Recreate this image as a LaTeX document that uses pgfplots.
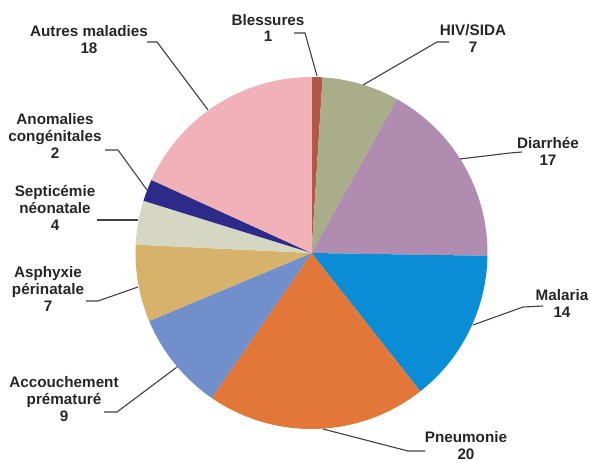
\documentclass[border=0pt]{standalone}
\usepackage{pgfplots}
\pgfplotsset{compat=1.18}
\usepackage{fontspec}
\setmainfont{Liberation Sans}
\definecolor{cBless}{HTML}{B05A45}
\definecolor{cHIV}{HTML}{A9AD89}
\definecolor{cDiar}{HTML}{B08DB0}
\definecolor{cMal}{HTML}{0A8DD4}
\definecolor{cPneu}{HTML}{E2773A}
\definecolor{cAcc}{HTML}{7190CB}
\definecolor{cAsph}{HTML}{D6B26A}
\definecolor{cSept}{HTML}{D6D7C2}
\definecolor{cAnom}{HTML}{2E2A8A}
\definecolor{cAutr}{HTML}{F0B2B8}
\definecolor{lead}{HTML}{404040}
% values in drawing order (clockwise from top)
\def\pievalues{1/cBless,7/cHIV,17/cDiar,14/cMal,20/cPneu,9/cAcc,7/cAsph,4/cSept,2/cAnom,18/cAutr}
\def\pietotal{99}
\newcount\pidx
\gdef\cum{0}
\pidx=0
\foreach \v/\c in \pievalues {%
  \pgfmathsetmacro\sa{90-\cum/\pietotal*360}%
  \pgfmathsetmacro\newcum{\cum+\v}%
  \pgfmathsetmacro\ea{90-\newcum/\pietotal*360}%
  \expandafter\xdef\csname pstart\the\pidx\endcsname{\sa}%
  \expandafter\xdef\csname pend\the\pidx\endcsname{\ea}%
  \expandafter\xdef\csname pcol\the\pidx\endcsname{\c}%
  \xdef\cum{\newcum}%
  \global\advance\pidx by 1
}
\begin{document}
\begin{tikzpicture}
\begin{axis}[
  x=1bp, y=1bp, xmin=0, xmax=590, ymin=0, ymax=463,
  hide axis, clip=false, anchor=origin, at={(0,0)},
  scale only axis,
]
\pgfplotsinvokeforeach{0,...,9}{
  \fill[color=\csname pcol#1\endcsname] (axis cs:311.5,210) -- ++(\csname pstart#1\endcsname:176bp)
     arc[start angle=\csname pstart#1\endcsname, end angle=\csname pend#1\endcsname, radius=176bp] -- cycle;
}
% leader lines (pixel coords, y flipped)
\begin{scope}[draw=lead, line width=1.1bp]
\draw (axis cs:294,430) -- (axis cs:305,430) -- (axis cs:317,387);
\draw (axis cs:449,421) -- (axis cs:437,421) -- (axis cs:363,378);
\draw (axis cs:522,311) -- (axis cs:510,310) -- (axis cs:460,304);
\draw (axis cs:543,157) -- (axis cs:523,156) -- (axis cs:473,138);
\draw (axis cs:323,34) -- (axis cs:408,12) -- (axis cs:425,12);
\draw (axis cs:177,96) -- (axis cs:117,51) -- (axis cs:104,51);
\draw (axis cs:138,176) -- (axis cs:98,162) -- (axis cs:86,162);
\draw (axis cs:97,243) -- (axis cs:138,243);
\draw (axis cs:105,313) -- (axis cs:118,313) -- (axis cs:147,273);
\draw (axis cs:147,421) -- (axis cs:157,421) -- (axis cs:208,353);
\end{scope}
\begin{scope}[every node/.style={align=center, inner sep=0pt, font=\fontsize{15.3}{17}\selectfont\bfseries, text=black!85}]
\node at (axis cs:89,423.5) {Autres maladies\\18};
\node at (axis cs:268,435) {Blessures\\1};
\node at (axis cs:473,424.5) {HIV/SIDA\\7};
\node at (axis cs:548,312) {Diarrhée\\17};
\node at (axis cs:562,159.5) {Malaria\\14};
\node at (axis cs:466,17.5) {Pneumonie\\20};
\node at (axis cs:64,64) {Accouchement\\prématuré\\9};
\node at (axis cs:48,174) {Asphyxie\\périnatale\\7};
\node at (axis cs:55,255) {Septicémie\\néonatale\\4};
\node at (axis cs:55,327) {Anomalies\\congénitales\\2};
\end{scope}
\end{axis}
\useasboundingbox (0,0) rectangle (590bp,463bp);
\end{tikzpicture}
\end{document}
